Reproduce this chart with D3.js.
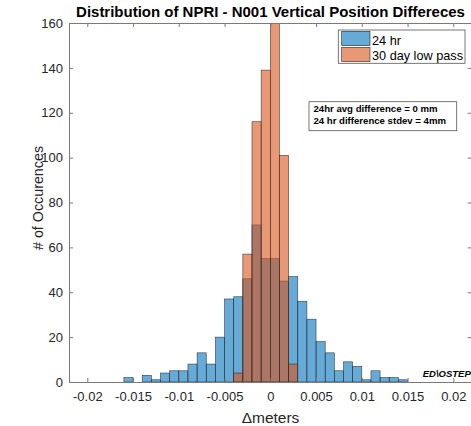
<!DOCTYPE html>
<html>
<head>
<meta charset="utf-8">
<script src="https://cdn.jsdelivr.net/npm/d3@7/dist/d3.min.js"></script>
<style>
  html, body { margin: 0; padding: 0; background: #fff; }
  svg { display: block; font-family: "Liberation Sans", Arial, Helvetica, sans-serif; }
</style>
</head>
<body>
<svg id="chart" width="471" height="426"></svg>
<script>
// ---- data ----
const titleText = "Distribution of NPRI - N001 Vertical Position Differeces";
const xLabel = "\u0394meters";
const yLabel = "# of Occurences";
const seriesNames = ["24 hr", "30 day low pass"];
const binWidth = 0.001;
// bin left edges (meters) and counts, 24 hr series
const binStarts24 = [-0.016,-0.015,-0.014,-0.013,-0.012,-0.011,-0.010,-0.009,-0.008,-0.007,-0.006,-0.005,-0.004,-0.003,-0.002,-0.001,0.000,0.001,0.002,0.003,0.004,0.005,0.006,0.007,0.008,0.009,0.010,0.011,0.012,0.013,0.014];
const counts24 =    [2,0,3,1,4,5,5,8,13,8,20,37,38,46,70,55,55,45,47,36,28,18,13,5,9,7,1,5,2,2,1];
// 30 day low pass series
const binStarts30 = [-0.004,-0.003,-0.002,-0.001,0.000,0.001,0.002];
const counts30 =    [4,57,116,139,160,101,8];
const xTicks = [-0.02,-0.015,-0.01,-0.005,0,0.005,0.01,0.015,0.02];
const yTicks = [0,20,40,60,80,100,120,140,160];
const annotationLines = ["24hr avg difference = 0 mm", "24 hr difference stdev = 4mm"];
const watermark = "ED\\OSTEP";

// ---- layout ----
const svg = d3.select("#chart");
const L = 69, R = 471.6, T = 23, B = 382;
const x = d3.scaleLinear().domain([-0.022, 0.022]).range([L, R]);
const y = d3.scaleLinear().domain([0, 160]).range([B, T]);

const blueFill = "rgb(0,114,189)", orangeFill = "rgb(217,83,25)";
const edge = "#262626";
const axisColor = "#7a7a7a", textColor = "#262626";

svg.append("defs").append("clipPath").attr("id", "plotclip")
  .append("rect").attr("x", L).attr("y", T).attr("width", R - L).attr("height", B - T);

const plot = svg.append("g").attr("clip-path", "url(#plotclip)");

function drawSeries(starts, counts, fill) {
  const d = starts.map((s, i) => ({ s, c: counts[i] })).filter(e => e.c > 0);
  plot.append("g").selectAll("rect").data(d).join("rect")
    .attr("x", e => x(e.s))
    .attr("width", e => x(e.s + binWidth) - x(e.s))
    .attr("y", e => y(e.c))
    .attr("height", e => y(0) - y(e.c))
    .attr("fill", fill).attr("fill-opacity", 0.6)
    .attr("stroke", edge).attr("stroke-width", 0.6).attr("stroke-opacity", 0.85);
}
drawSeries(binStarts24, counts24, blueFill);
drawSeries(binStarts30, counts30, orangeFill);

// ---- axes ----
const fmt = d => d === 0 ? "0" : String(+d.toFixed(3));
function styleAxis(g) {
  g.select(".domain").attr("stroke", axisColor).attr("stroke-width", 1);
  g.selectAll(".tick line").attr("stroke", axisColor).attr("stroke-width", 1);
  g.selectAll(".tick text").attr("fill", textColor).style("font-size", "13px");
}
svg.append("g").attr("transform", `translate(0,${B})`)
  .call(d3.axisBottom(x).tickValues(xTicks).tickFormat(fmt).tickSizeInner(-4).tickSizeOuter(0).tickPadding(10))
  .call(styleAxis);
svg.append("g").attr("transform", `translate(0,${T})`)
  .call(d3.axisTop(x).tickValues(xTicks).tickFormat("").tickSizeInner(-4).tickSizeOuter(0))
  .call(styleAxis);
svg.append("g").attr("transform", `translate(${L},0)`)
  .call(d3.axisLeft(y).tickValues(yTicks).tickSizeInner(-4).tickSizeOuter(0).tickPadding(6))
  .call(styleAxis);
svg.append("g").attr("transform", `translate(${R},0)`)
  .call(d3.axisRight(y).tickValues(yTicks).tickFormat("").tickSizeInner(-4).tickSizeOuter(0))
  .call(styleAxis);
svg.selectAll(".tick text").attr("font-family", null);
svg.selectAll("g").attr("font-family", null);

// ---- labels ----
const title = svg.append("text").attr("x", 270.5).attr("y", 16.5)
  .attr("text-anchor", "middle").attr("font-weight", "bold")
  .style("font-size", "15.5px").attr("fill", "#000").text(titleText);
const tw = title.node().getComputedTextLength();
if (tw > 0) title.style("font-size", (15.5 * 389 / tw).toFixed(2) + "px");

svg.append("text").attr("x", 270.5).attr("y", 423)
  .attr("text-anchor", "middle").style("font-size", "15.5px").attr("fill", textColor).text(xLabel);
svg.append("text").attr("transform", "translate(43,198) rotate(-90)")
  .attr("text-anchor", "middle").style("font-size", "14.3px").attr("fill", textColor).text(yLabel);

// ---- legend ----
const lg = svg.append("g");
lg.append("rect").attr("x", 338.3).attr("y", 30).attr("width", 126.7).attr("height", 33.3)
  .attr("fill", "#fff").attr("stroke", "#555").attr("stroke-width", 0.8);
[blueFill, orangeFill].forEach((c, i) => {
  lg.append("rect").attr("x", 341.7).attr("y", 31.3 + i * 16).attr("width", 28.3).attr("height", 14.4)
    .attr("fill", c).attr("fill-opacity", 0.6).attr("stroke", edge).attr("stroke-width", 0.6);
  lg.append("text").attr("x", 372).attr("y", 45 + i * 14.5).style("font-size", "12.7px")
    .attr("fill", "#000").text(seriesNames[i]);
});

// ---- annotation ----
svg.append("rect").attr("x", 309).attr("y", 101.7).attr("width", 147.7).attr("height", 29)
  .attr("fill", "#fff").attr("stroke", "#555").attr("stroke-width", 0.8);
annotationLines.forEach((t, i) => {
  svg.append("text").attr("x", 313.5).attr("y", 112 + i * 12.2).attr("font-weight", "bold")
    .style("font-size", "9.6px").attr("fill", "#000").text(t);
});

svg.append("text").attr("x", 422.7).attr("y", 377).attr("font-weight", "bold").attr("font-style", "italic")
  .style("font-size", "9.5px").attr("fill", "#000").text(watermark);
</script>
</body>
</html>
